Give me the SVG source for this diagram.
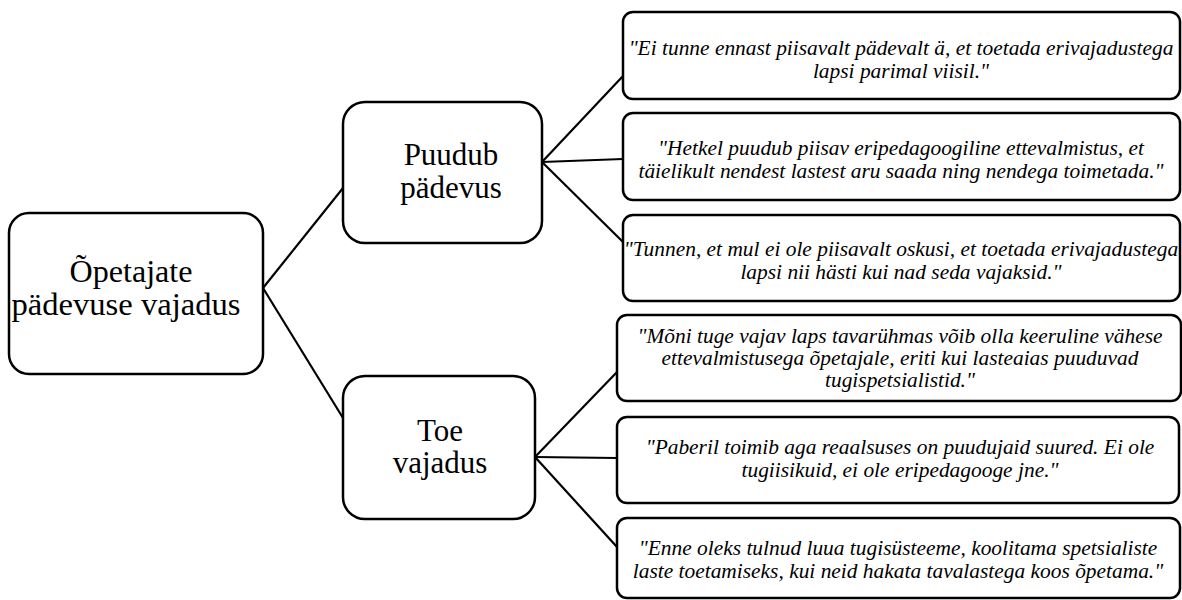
<svg xmlns="http://www.w3.org/2000/svg" width="1182" height="600" viewBox="0 0 1182 600">
<style>
.box{fill:#fff;stroke:#000;stroke-width:2.5}
.big{font-family:"Liberation Serif","Times New Roman",serif;font-size:31px;fill:#000;text-anchor:middle}
.q{font-family:"Liberation Serif","Times New Roman",serif;font-size:20.5px;font-style:italic;fill:#000;text-anchor:middle}
.conn line{stroke:#000;stroke-width:2.2}
</style>
<rect width="1182" height="600" fill="#fff"/>
<g class="conn" id="connectors">
<line x1="263" y1="288" x2="343" y2="188"/>
<line x1="263" y1="288" x2="343" y2="418"/>
<line x1="542" y1="162" x2="623" y2="76"/>
<line x1="542" y1="162" x2="623" y2="159"/>
<line x1="542" y1="162" x2="623" y2="242"/>
<line x1="535" y1="457" x2="617" y2="372"/>
<line x1="535" y1="457" x2="617" y2="458"/>
<line x1="535" y1="457" x2="617" y2="547"/>
</g>
<g id="root">
<rect class="box" x="9" y="213" width="254" height="161" rx="20"/>
<text class="big" x="131" y="282" textLength="123" lengthAdjust="spacingAndGlyphs">Õpetajate</text>
<text class="big" x="126" y="315" textLength="229" lengthAdjust="spacingAndGlyphs">pädevuse vajadus</text>
</g>
<g id="puudub">
<rect class="box" x="343" y="102" width="199" height="141" rx="22"/>
<text class="big" x="451" y="165">Puudub</text>
<text class="big" x="451" y="198">pädevus</text>
</g>
<g id="toe">
<rect class="box" x="343" y="376" width="192" height="143" rx="22"/>
<text class="big" x="440" y="441">Toe</text>
<text class="big" x="440" y="473">vajadus</text>
</g>
<g id="leaf1">
<rect class="box" x="623" y="12" width="557" height="87" rx="10"/>
<g transform="translate(901 0) scale(1.045 1) translate(-901 0)">
<text class="q" x="901" y="55">"Ei tunne ennast piisavalt pädevalt ä, et toetada erivajadustega</text>
<text class="q" x="901" y="78">lapsi parimal viisil."</text>
</g>
</g>
<g id="leaf2">
<rect class="box" x="623" y="113" width="557" height="87" rx="10"/>
<g transform="translate(901 0) scale(1.045 1) translate(-901 0)">
<text class="q" x="901" y="155">"Hetkel puudub piisav eripedagoogiline ettevalmistus, et</text>
<text class="q" x="901" y="178">täielikult nendest lastest aru saada ning nendega toimetada."</text>
</g>
</g>
<g id="leaf3">
<rect class="box" x="623" y="215" width="557" height="86" rx="10"/>
<g transform="translate(901 0) scale(1.045 1) translate(-901 0)">
<text class="q" x="901" y="256">"Tunnen, et mul ei ole piisavalt oskusi, et toetada erivajadustega</text>
<text class="q" x="901" y="279">lapsi nii hästi kui nad seda vajaksid."</text>
</g>
</g>
<g id="leaf4">
<rect class="box" x="617" y="315" width="564" height="86" rx="10"/>
<g transform="translate(900 0) scale(1.045 1) translate(-900 0)">
<text class="q" x="900" y="343">"Mõni tuge vajav laps tavarühmas võib olla keeruline vähese</text>
<text class="q" x="900" y="365">ettevalmistusega õpetajale, eriti kui lasteaias puuduvad</text>
<text class="q" x="900" y="387">tugispetsialistid."</text>
</g>
</g>
<g id="leaf5">
<rect class="box" x="617" y="417" width="562" height="86" rx="10"/>
<g transform="translate(900 0) scale(1.045 1) translate(-900 0)">
<text class="q" x="900" y="454">"Paberil toimib aga reaalsuses on puudujaid suured. Ei ole</text>
<text class="q" x="900" y="477">tugiisikuid, ei ole eripedagooge jne."</text>
</g>
</g>
<g id="leaf6">
<rect class="box" x="617" y="518" width="563" height="80" rx="10"/>
<g transform="translate(898 0) scale(1.045 1) translate(-898 0)">
<text class="q" x="898" y="555">"Enne oleks tulnud luua tugisüsteeme, koolitama spetsialiste</text>
<text class="q" x="898" y="578">laste toetamiseks, kui neid hakata tavalastega koos õpetama."</text>
</g>
</g>
</svg>
